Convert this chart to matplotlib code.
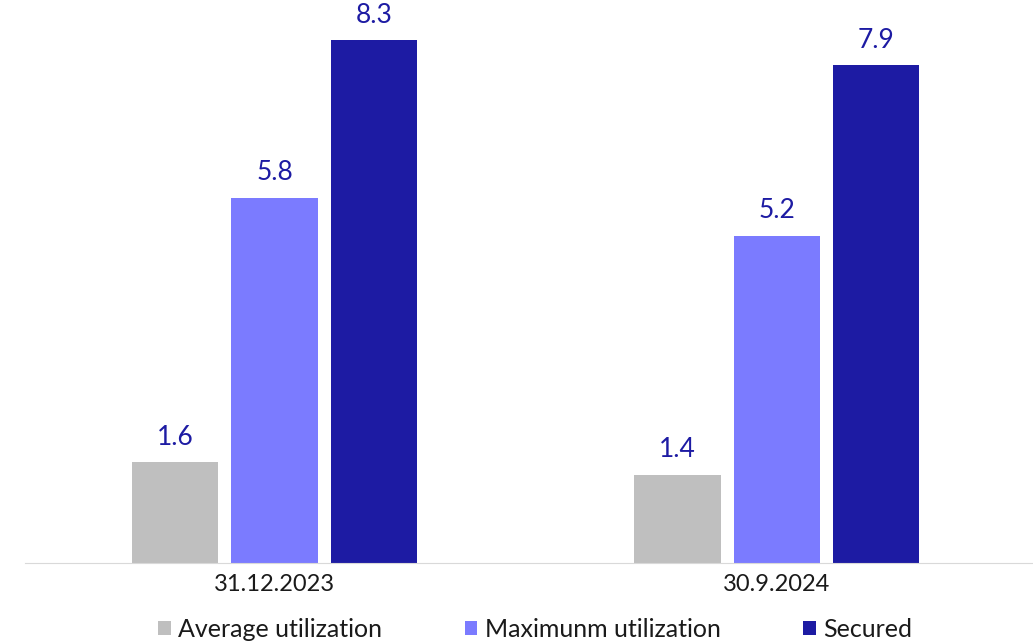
import matplotlib
matplotlib.use("Agg")
import matplotlib.pyplot as plt
import numpy as np

plt.rcParams['font.family'] = ['Lato', 'DejaVu Sans']

dates = ["31.12.2023", "30.9.2024"]
series = ["Average utilization", "Maximunm utilization", "Secured"]
average = [1.6, 1.4]
maximum = [5.8, 5.2]
secured = [8.3, 7.9]
colors = ["#BFBFBF", "#7B7BFF", "#1D1BA3"]

fig = plt.figure(figsize=(10.33, 6.43), dpi=100)
ax = fig.add_axes([0.024, 0.1244, 0.976, 0.8756])

x = np.arange(len(dates))
w = 0.172
off = 0.198
for i, (vals, name) in enumerate(zip([average, maximum, secured], series)):
    bars = ax.bar(x + (i - 1) * off, vals, width=w, color=colors[i], label=name)
    for b, v in zip(bars, vals):
        ax.text(b.get_x() + b.get_width() / 2, v + 0.2, f"{v:.1f}",
                ha="center", va="bottom", fontsize=19, color="#1D1BA3")

ax.set_ylim(0, 8.94)
ax.set_xlim(-0.497, 1.51)
ax.set_xticks(x)
ax.set_xticklabels(dates, fontsize=17, color="#1a1a1a")
ax.tick_params(axis="x", length=0, pad=8)
ax.set_yticks([])
for s in ["top", "right", "left"]:
    ax.spines[s].set_visible(False)
ax.spines["bottom"].set_color("#D9D9D9")

fig.legend(loc="center", bbox_to_anchor=(0.518, 0.021), bbox_transform=fig.transFigure,
           ncol=3, frameon=False, fontsize=18, handlelength=0.5, handleheight=0.5,
           handletextpad=0.3, columnspacing=3.3, labelcolor="#1a1a1a",
           borderpad=0, borderaxespad=0)

fig.savefig("out.png", dpi=100)
